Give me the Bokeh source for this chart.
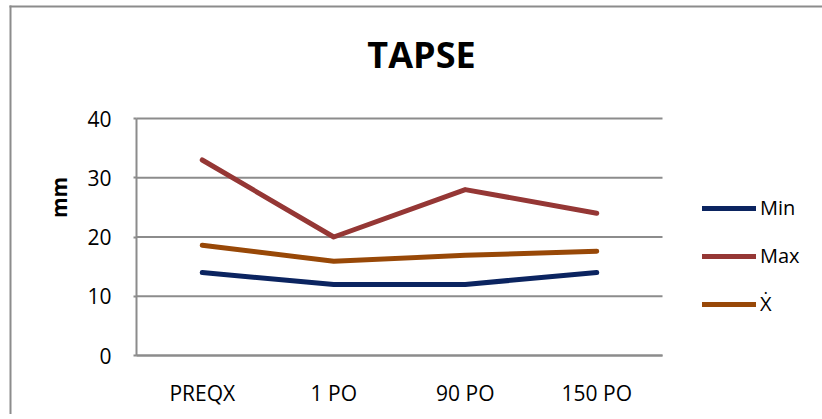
import math
from bokeh.plotting import figure
from bokeh.models import Range1d, Legend, LegendItem, FixedTicker, Label, LinearAxis
from bokeh.embed import file_html
from bokeh.resources import INLINE

# TAPSE measurements (mm) at each follow-up point
categories = ["PREQX", "1 PO", "90 PO", "150 PO"]
min_vals = [14, 12, 12, 14]
max_vals = [33, 20, 28, 24]
mean_vals = [18.6, 15.9, 16.9, 17.6]
series_names = ["Min", "Max", "\u1e8a"]
y_ticks = [0, 10, 20, 30, 40]

colors = ["#0b2460", "#953735", "#984807"]
grid_gray = "#8c8c8c"
font = "Open Sans"

# each category occupies one unit; its point sits in the middle of the slot
n = len(categories)
x_pos = [i + 0.5 for i in range(n)]

# canvas geometry (px): plot area origin and scale
fig_w, fig_h = 822, 414
origin_x, origin_y = 136, 355          # canvas position of (0, 0)
px_x = 131.5                           # px per category slot
px_y = 237 / 40                        # px per mm


def dx(px):
    return (px - origin_x) / px_x


def dy(py):
    return (origin_y - py) / px_y


p = figure(
    width=fig_w, height=fig_h,
    x_range=Range1d(dx(0), dx(fig_w)),
    y_range=Range1d(dy(fig_h), dy(0)),
    x_axis_location=None, y_axis_location=None,
    output_backend="svg", toolbar_location=None,
    min_border=0,
)
p.background_fill_color = "white"
p.border_fill_color = "white"
p.outline_line_color = None
p.xgrid.grid_line_color = None
p.ygrid.grid_line_color = None

# chart area border (left and top edges)
p.segment(x0=[dx(10), dx(9)], y0=[dy(fig_h), dy(6)], x1=[dx(10), dx(fig_w)], y1=[dy(5), dy(6)],
          line_color=grid_gray, line_width=2)

# chart title
p.add_layout(Label(
    x=dx(421), y=dy(68) + 2.4, text="TAPSE", text_align="center", text_baseline="alphabetic",
    text_font=font, text_font_style="bold", text_font_size="36px", text_color="black",
))

# y axis unit label
p.add_layout(Label(
    x=dx(58), y=dy(197), text="mm", angle=math.pi / 2,
    text_align="center", text_baseline="middle",
    text_font=font, text_font_style="bold", text_font_size="21px", text_color="black",
))

# y axis at x = 0
yaxis = LinearAxis(fixed_location=0, bounds=(0, 40), ticker=FixedTicker(ticks=y_ticks))
yaxis.major_label_text_font = font
yaxis.major_label_text_font_size = "21px"
yaxis.major_label_text_color = "black"
yaxis.major_label_standoff = 22
yaxis.axis_line_color = grid_gray
yaxis.axis_line_width = 2
yaxis.major_tick_line_color = grid_gray
yaxis.major_tick_line_width = 2
yaxis.major_tick_in = 0
yaxis.major_tick_out = 3
yaxis.minor_tick_line_color = None
p.add_layout(yaxis, "left")

# x axis at y = 0: category names under each slot
xaxis = LinearAxis(fixed_location=0, bounds=(0, n), ticker=FixedTicker(ticks=x_pos))
xaxis.major_label_overrides = {x: c for x, c in zip(x_pos, categories)}
xaxis.major_label_text_font = font
xaxis.major_label_text_font_size = "21px"
xaxis.major_label_text_color = "black"
xaxis.major_label_standoff = 17
xaxis.axis_line_color = grid_gray
xaxis.axis_line_width = 2
xaxis.major_tick_line_color = None
xaxis.minor_tick_line_color = None
p.add_layout(xaxis, "below")

# horizontal gridlines spanning the category slots only
p.segment(x0=[0] * len(y_ticks), x1=[n] * len(y_ticks), y0=y_ticks, y1=y_ticks,
          line_color=grid_gray, line_width=2)

renderers = []
for vals, c in zip([min_vals, max_vals, mean_vals], colors):
    r = p.line(x_pos, vals, line_color=c, line_width=5,
               line_cap="round", line_join="round")
    renderers.append(r)

legend = Legend(
    items=[LegendItem(label=nm, renderers=[r]) for nm, r in zip(series_names, renderers)],
    location=(702, fig_h - 317),
    orientation="vertical",
    label_text_font=font, label_text_font_size="20px", label_text_color="black",
    glyph_width=54, glyph_height=20, label_height=20, spacing=21, padding=0, margin=0,
    label_standoff=4,
    border_line_color=None, background_fill_alpha=0,
)
p.add_layout(legend)

open("out.html", "w").write(file_html(p, INLINE))
